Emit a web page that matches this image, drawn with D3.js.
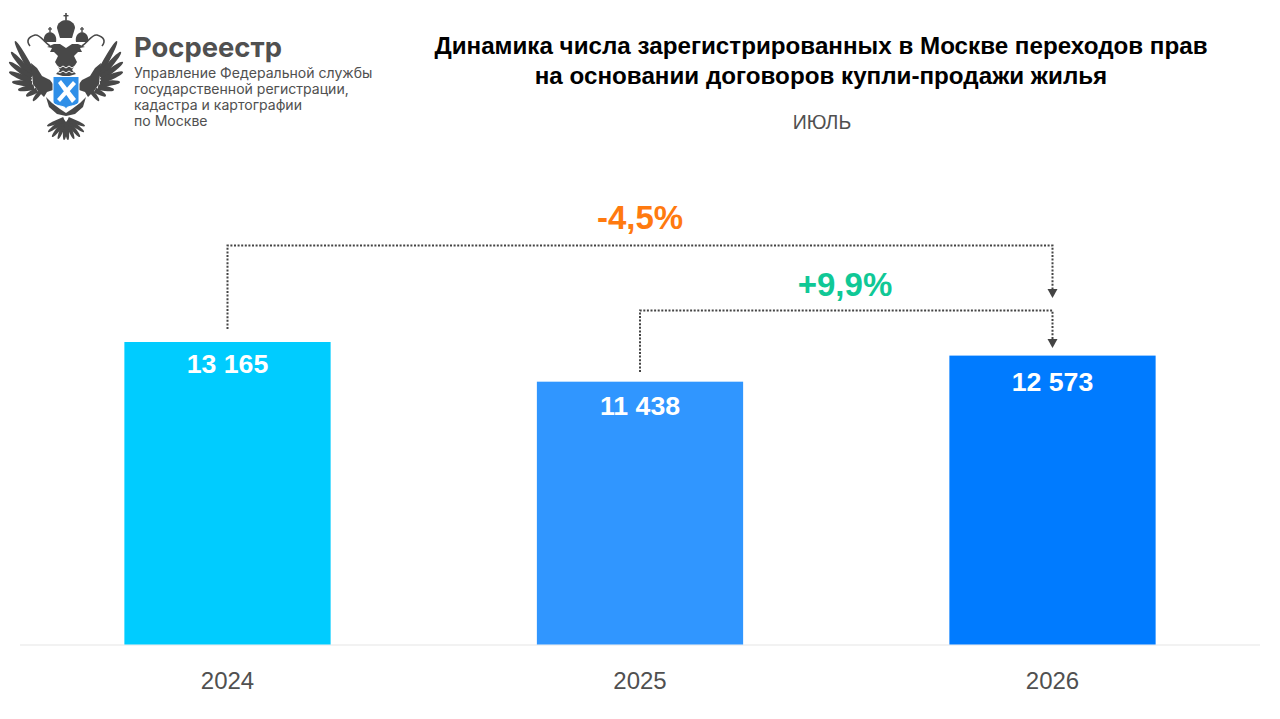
<!DOCTYPE html>
<html>
<head>
<meta charset="utf-8">
<script src="https://d3js.org/d3.v7.min.js"></script>
<style>
html, body { margin: 0; padding: 0; background: #fff; }
svg { display: block; }
</style>
</head>
<body>
<svg width="1280" height="719"></svg>
<script>
var years = ['2024', '2025', '2026'];
var values = [13165, 11438, 12573];
var valueLabels = ['13 165', '11 438', '12 573'];
var barColors = ['#00ccff', '#3096ff', '#007bff'];
var titleLines = ['Динамика числа зарегистрированных в Москве переходов прав',
                  'на основании договоров купли-продажи жилья'];
var subtitle = 'ИЮЛЬ';
var orgName = 'Росреестр';
var orgLines = ['Управление Федеральной службы', 'государственной регистрации,',
                'кадастра и картографии', 'по Москве'];
var changes = [
    {label: '-4,5%', from: '2024', to: '2026', color: '#ff7a0f'},
    {label: '+9,9%', from: '2025', to: '2026', color: '#10c896'}
];

var sans = '"Liberation Sans", Arial, sans-serif';
var svg = d3.select('svg').style('font-family', sans);

svg.append('rect').attr('width', 1280).attr('height', 719).attr('fill', '#fff');

var ScaleX = d3.scaleBand().domain(years).range([21.25, 1258.75]).paddingInner(0.5).paddingOuter(0.25);
var ScaleY = d3.scaleLinear().domain([0, 13165]).range([644.5, 342]);

//baseline
svg.append('line')
    .attr('x1', 20).attr('x2', 1260)
    .attr('y1', 645).attr('y2', 645)
    .attr('stroke', '#eeeeee')
    .attr('stroke-width', 1.5);

//bars
svg.selectAll('.bar')
    .data(values)
    .enter()
    .append('rect')
    .attr('class', 'bar')
    .attr('x', function(d, i){ return ScaleX(years[i]); })
    .attr('y', function(d){ return ScaleY(d); })
    .attr('width', ScaleX.bandwidth())
    .attr('height', function(d){ return ScaleY(0) - ScaleY(d); })
    .attr('fill', function(d, i){ return barColors[i]; });

//value labels inside the bars, the offset differs a bit per bar in the original
var labelDrop = [31, 33, 35];
svg.selectAll('.val')
    .data(values)
    .enter()
    .append('text')
    .attr('class', 'val')
    .attr('x', function(d, i){ return ScaleX(years[i]) + ScaleX.bandwidth() / 2; })
    .attr('y', function(d, i){ return ScaleY(d) + labelDrop[i]; })
    .attr('text-anchor', 'middle')
    .attr('font-size', 26.7)
    .attr('font-weight', 'bold')
    .attr('fill', '#fff')
    .text(function(d, i){ return valueLabels[i]; });

//year labels
var axis = svg.append('g')
    .attr('transform', 'translate(0,645)')
    .call(d3.axisBottom(ScaleX).tickSize(0).tickPadding(27));
axis.select('.domain').remove();
axis.selectAll('text')
    .attr('font-size', 24)
    .attr('font-family', sans)
    .attr('fill', '#505050');

//title
svg.selectAll('.title')
    .data(titleLines)
    .enter()
    .append('text')
    .attr('class', 'title')
    .attr('x', 821)
    .attr('y', function(d, i){ return 54 + i * 30; })
    .attr('text-anchor', 'middle')
    .attr('font-size', 24.2)
    .attr('font-weight', 'bold')
    .attr('fill', '#000')
    .text(function(d){ return d; });

svg.append('text')
    .attr('x', 822).attr('y', 129)
    .attr('text-anchor', 'middle')
    .attr('font-size', 19.5)
    .attr('fill', '#505050')
    .text(subtitle);

//connectors between bars
function center(year){ return ScaleX(year) + ScaleX.bandwidth() / 2; }

function connector(from, to, yTop, yStart, yEnd){
    svg.append('path')
        .attr('d', 'M' + center(from) + ',' + yStart + 'V' + yTop + 'H' + center(to) + 'V' + (yEnd - 9))
        .attr('fill', 'none')
        .attr('stroke', '#444')
        .attr('stroke-width', 2)
        .attr('stroke-dasharray', '2 1.6');
    svg.append('path')
        .attr('d', 'M' + (center(to) - 5) + ',' + (yEnd - 9) + 'h10l-5,9z')
        .attr('fill', '#444');
}
connector(changes[0].from, changes[0].to, 245.5, 329, 298);
connector(changes[1].from, changes[1].to, 310.5, 372, 348);

svg.append('text')
    .attr('x', 640).attr('y', 229)
    .attr('text-anchor', 'middle')
    .attr('font-size', 33)
    .attr('font-weight', 'bold')
    .attr('fill', changes[0].color)
    .text(changes[0].label);
svg.append('text')
    .attr('x', 845).attr('y', 296)
    .attr('text-anchor', 'middle')
    .attr('font-size', 33)
    .attr('font-weight', 'bold')
    .attr('fill', changes[1].color)
    .text(changes[1].label);

//logo text
svg.append('text')
    .attr('x', 134).attr('y', 57)
    .attr('font-family', 'Inter')
    .attr('font-size', 27.4)
    .attr('font-weight', 700)
    .attr('fill', '#505050')
    .text(orgName);
svg.selectAll('.org')
    .data(orgLines)
    .enter()
    .append('text')
    .attr('class', 'org')
    .attr('x', 134)
    .attr('y', function(d, i){ return 77.5 + i * 16; })
    .attr('font-family', 'Inter')
    .attr('font-size', 14.05)
    .attr('fill', '#505050')
    .text(function(d){ return d; });

//logo emblem, only the left half is drawn and then mirrored
var grey = '#484848';
var emblem = svg.append('g');
var half = emblem.append('g').attr('fill', grey);

function feather(g, x0, y0, x1, y1, w){
    var dx = x1 - x0, dy = y1 - y0, len = Math.sqrt(dx * dx + dy * dy);
    var nx = -dy / len * w, ny = dx / len * w;
    g.append('path').attr('d',
        'M' + (x0 + nx) + ',' + (y0 + ny) +
        'Q' + (x1 + nx) + ',' + (y1 + ny) + ' ' + x1 + ',' + y1 +
        'Q' + (x1 - nx) + ',' + (y1 - ny) + ' ' + (x0 - nx) + ',' + (y0 - ny) + 'Z');
}

//wing feathers
feather(half, 33, 74, 15, 41, 3);
feather(half, 32, 76, 11, 52, 3);
feather(half, 31, 78, 9, 62, 3);
feather(half, 31, 81, 9, 72, 3);
feather(half, 32, 84, 12, 82, 3);
feather(half, 34, 87, 18, 90, 2.8);
feather(half, 37, 90, 26, 96, 2.6);
feather(half, 40, 92, 33, 101, 2.2);
//inner part of the wing
half.append('path').attr('d', 'M31,63L37,68L42,76L50,80L53,84L53,90L47,92L44,97L38,91L33,84Z');
//neck and head
half.append('path').attr('d', 'M66,48L60,44L54,44L47,47L52,48L50,52L54,52L58,56L55,62L60,70L56,74L66,77Z');
//leg
half.append('path').attr('d', 'M46,97L52,103L60,109L66,113L66,116L57,114L49,107Z');
//tail
feather(half, 64, 119, 47, 126, 2.2);
feather(half, 64, 120, 48, 132, 2.2);
feather(half, 65, 121, 52, 137, 2.2);
feather(half, 65, 122, 58, 139, 2.2);
feather(half, 66, 122, 64, 140, 2.2);
//side crown with a small cross
half.append('path').attr('d', 'M44,42c-1,-5 1,-9 6,-10c5,1 7,5 6,10z');
half.append('rect').attr('x', 49.3).attr('y', 27).attr('width', 1.4).attr('height', 5);
half.append('rect').attr('x', 48).attr('y', 28.4).attr('width', 4).attr('height', 1.2);
//ribbon going from the crown to the wing
half.append('path')
    .attr('d', 'M30,46C26,41 28,37 35,35C40,34 44,42 50,46')
    .attr('fill', 'none')
    .attr('stroke', grey)
    .attr('stroke-width', 1.6);

emblem.append('g')
    .attr('fill', grey)
    .attr('transform', 'translate(132,0) scale(-1,1)')
    .html(half.html());

//centre crown
var crown = emblem.append('g').attr('fill', grey);
crown.append('path').attr('d', 'M60,38L57,28c0,-5 5,-8 9,-8c4,0 9,3 9,8L72,38z');
crown.append('rect').attr('x', 65.2).attr('y', 13).attr('width', 1.6).attr('height', 7);
crown.append('rect').attr('x', 63.5).attr('y', 15).attr('width', 5).attr('height', 1.4);
//body stripes between the necks
emblem.append('path')
    .attr('d', 'M57,66l3,2l3,-2l3,2l3,-2l3,2l3,-2 M57,71l3,2l3,-2l3,2l3,-2l3,2l3,-2')
    .attr('fill', 'none')
    .attr('stroke', '#fff')
    .attr('stroke-width', 1);
//shield
emblem.append('path')
    .attr('d', 'M53,76.5H79V101C79,104 76,105 72,106C69,106.5 67,107 66,108.5C65,107 63,106.5 60,106C56,105 53,104 53,101Z')
    .attr('fill', '#2f8fe8')
    .attr('stroke', '#fff')
    .attr('stroke-width', 1);
emblem.append('path')
    .attr('d', 'M58,83L61,80L76,99L72,103Z')
    .attr('fill', '#fff');
emblem.append('path')
    .attr('d', 'M73,81L76,84L60,102L57,99Z')
    .attr('fill', '#fff');
</script>
</body>
</html>
